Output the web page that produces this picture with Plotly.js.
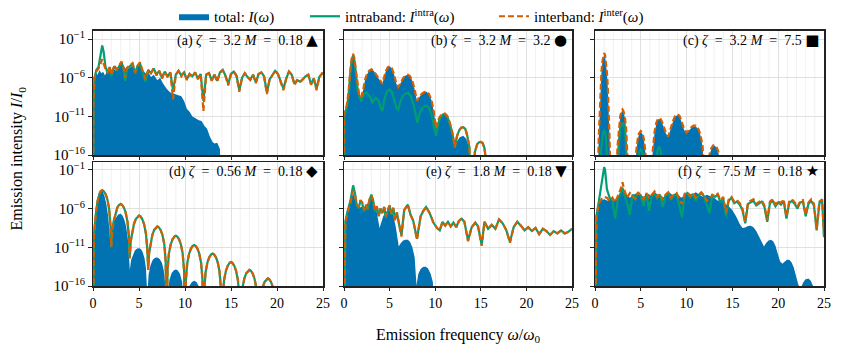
<!DOCTYPE html>
<html>
<head>
<meta charset="utf-8">
<script src="https://cdn.plot.ly/plotly-3.0.1.min.js"></script>
<style>
  body { margin: 0; background: #fff; }
  #chart { width: 843px; height: 353px; }
</style>
</head>
<body>
<div id="chart"></div>
<script>
// Emission spectra as [omega/omega0, log10(I/I0)] pairs

// (a) zeta = 3.2, M = 0.18
const totalA = [[0,-25],[0.05,-9],[0.15,-6.0],[0.3,-5.3],[0.5,-5.6],[0.7,-5.0],[0.9,-5.4],[1.1,-5.2],[1.3,-5.7],[1.6,-4.9],[1.9,-5.3],[2.2,-4.8],[2.5,-5.1],[2.8,-4.5],[3.1,-4.0],[3.4,-4.6],[3.7,-5.0],[4.0,-4.7],[4.3,-4.4],[4.6,-4.9],[4.9,-4.3],[5.1,-4.2],[5.4,-5.0],[5.7,-5.4],[6.0,-5.2],[6.3,-5.9],[6.6,-5.6],[7.0,-6.3],[7.3,-6.0],[7.6,-6.7],[8.0,-7.4],[8.4,-7.9],[8.8,-8.1],[9.2,-8.3],[9.6,-8.4],[9.9,-9.0],[10.2,-10.0],[10.5,-10.4],[10.8,-11.0],[11.1,-11.2],[11.5,-11.5],[11.8,-11.6],[12.1,-12.2],[12.4,-12.6],[12.7,-13.6],[13.0,-14.3],[13.2,-14.5],[13.5,-14.4],[13.8,-15.2],[14.0,-25]];
const intraA = [[0,-25],[0.05,-10],[0.15,-6.2],[0.35,-5.0],[0.6,-4.6],[0.85,-2.5],[1.0,-1.8],[1.15,-2.6],[1.35,-4.5],[1.6,-5.5],[1.8,-4.6],[2.0,-5.8],[2.3,-4.5],[2.6,-5.0],[2.9,-4.3],[3.1,-4.0],[3.3,-4.7],[3.5,-6.4],[3.7,-4.8],[4.0,-4.5],[4.3,-4.2],[4.6,-5.5],[4.8,-4.6],[5.1,-4.1],[5.4,-5.2],[5.7,-6.5],[6.0,-5.0],[6.3,-5.4],[6.6,-4.8],[6.9,-5.6],[7.2,-5.1],[7.5,-6.0],[7.8,-5.2],[8.1,-5.8],[8.4,-5.3],[8.7,-7.6],[9.0,-5.6],[9.3,-5.1],[9.6,-5.7],[9.9,-5.3],[10.2,-6.2],[10.5,-5.5],[10.8,-5.8],[11.1,-5.3],[11.4,-6.1],[11.7,-5.5],[12.0,-9.0],[12.3,-5.6],[12.6,-5.4],[12.9,-6.3],[13.2,-5.6],[13.5,-6.4],[13.8,-5.3],[14.1,-5.0],[14.4,-5.7],[14.7,-6.8],[15.0,-5.5],[15.3,-5.2],[15.6,-5.7],[15.9,-7.6],[16.2,-6.0],[16.5,-5.4],[16.8,-5.9],[17.1,-6.2],[17.4,-5.6],[17.7,-6.6],[18.0,-5.5],[18.3,-5.3],[18.6,-5.8],[18.9,-7.9],[19.2,-6.2],[19.5,-5.6],[19.8,-5.1],[20.1,-5.5],[20.4,-6.6],[20.7,-7.4],[21.0,-6.1],[21.3,-5.2],[21.6,-5.6],[21.9,-6.8],[22.2,-6.3],[22.5,-6.5],[22.8,-6.2],[23.1,-5.8],[23.4,-5.6],[23.7,-6.8],[24.0,-6.1],[24.3,-7.4],[24.6,-5.9],[24.9,-5.4],[25,-5.3]];
const interA = [[0,-25],[0.05,-9],[0.15,-6.0],[0.35,-5.2],[0.6,-4.8],[0.85,-4.0],[1.0,-3.6],[1.15,-4.1],[1.35,-4.9],[1.6,-5.3],[1.8,-4.5],[2.0,-5.6],[2.3,-4.4],[2.6,-4.9],[2.9,-4.2],[3.1,-3.9],[3.3,-4.6],[3.5,-6.0],[3.7,-4.7],[4.0,-4.4],[4.3,-4.1],[4.6,-5.3],[4.8,-4.5],[5.1,-4.0],[5.4,-5.0],[5.7,-6.2],[6.0,-5.0],[6.3,-5.4],[6.6,-4.8],[6.9,-5.7],[7.2,-5.1],[7.5,-6.1],[7.8,-5.2],[8.1,-5.9],[8.4,-5.3],[8.7,-8.8],[9.0,-5.6],[9.3,-5.1],[9.6,-5.8],[9.9,-5.3],[10.2,-6.3],[10.5,-5.5],[10.8,-5.9],[11.1,-5.3],[11.4,-6.2],[11.7,-5.5],[12.0,-10.3],[12.3,-5.6],[12.6,-5.4],[12.9,-6.4],[13.2,-5.6],[13.5,-6.5],[13.8,-5.3],[14.1,-5.0],[14.4,-5.8],[14.7,-7.0],[15.0,-5.5],[15.3,-5.2],[15.6,-5.8],[15.9,-7.8],[16.2,-6.0],[16.5,-5.4],[16.8,-5.9],[17.1,-6.3],[17.4,-5.6],[17.7,-6.7],[18.0,-5.5],[18.3,-5.3],[18.6,-5.9],[18.9,-8.1],[19.2,-6.2],[19.5,-5.6],[19.8,-5.1],[20.1,-5.5],[20.4,-6.7],[20.7,-7.6],[21.0,-6.1],[21.3,-5.2],[21.6,-5.6],[21.9,-6.9],[22.2,-6.3],[22.5,-6.6],[22.8,-6.2],[23.1,-5.8],[23.4,-5.6],[23.7,-6.9],[24.0,-6.1],[24.3,-7.6],[24.6,-5.9],[24.9,-5.4],[25,-5.3]];

// (b) zeta = 3.2, M = 3.2
const totalB = [[0,-25],[0.02,-10.4],[0.3,-9.6],[0.5,-7.8],[0.7,-5.0],[0.85,-3.5],[1.0,-2.9],[1.15,-3.5],[1.3,-5.0],[1.5,-7.2],[1.7,-8.5],[1.9,-8.4],[2.1,-7.6],[2.3,-6.3],[2.5,-5.6],[2.75,-5.1],[3.0,-4.9],[3.25,-5.1],[3.5,-5.6],[3.8,-6.1],[4.0,-6.4],[4.2,-6.8],[4.4,-5.9],[4.6,-5.1],[4.8,-4.65],[5.0,-4.5],[5.25,-4.75],[5.5,-5.6],[5.75,-6.8],[5.95,-7.2],[6.2,-6.7],[6.5,-6.0],[6.75,-5.7],[7.0,-5.6],[7.25,-5.8],[7.5,-6.4],[7.75,-7.5],[8.0,-9.0],[8.25,-8.5],[8.5,-8.1],[8.8,-7.85],[9.05,-7.8],[9.3,-8.05],[9.6,-8.9],[9.85,-10.4],[10.1,-12.5],[10.35,-11.4],[10.6,-10.9],[10.85,-10.65],[11.05,-10.6],[11.3,-10.9],[11.6,-11.8],[11.9,-13.3],[12.15,-15.0],[12.4,-14.2],[12.7,-13.7],[13.07,-13.5],[13.4,-13.9],[13.7,-15.0],[14.0,-25]];
const intraB = [[0,-25],[0.02,-10.9],[0.3,-10.0],[0.5,-8.3],[0.7,-5.3],[0.85,-3.7],[1.0,-3.1],[1.15,-3.8],[1.3,-5.4],[1.5,-7.6],[1.7,-8.5],[1.85,-8.9],[2.0,-8.7],[2.2,-8.1],[2.45,-7.9],[2.7,-8.3],[2.9,-8.5],[3.1,-9.3],[3.3,-8.8],[3.5,-8.6],[3.8,-9.0],[4.0,-9.8],[4.2,-10.3],[4.45,-8.7],[4.7,-7.8],[5.0,-7.5],[5.25,-7.9],[5.5,-8.8],[5.75,-9.9],[5.95,-10.1],[6.2,-9.0],[6.5,-8.3],[6.8,-8.0],[7.0,-7.95],[7.3,-8.3],[7.6,-9.4],[7.85,-11.0],[8.05,-11.8],[8.3,-10.6],[8.6,-9.9],[8.85,-9.65],[9.05,-9.6],[9.35,-9.95],[9.65,-11.0],[9.9,-12.6],[10.1,-13.5],[10.35,-11.9],[10.6,-11.1],[10.85,-10.75],[11.05,-10.7],[11.3,-10.95],[11.6,-11.9],[11.9,-13.3],[12.15,-15.0],[12.4,-13.5],[12.65,-12.75],[12.85,-12.45],[13.07,-12.4],[13.3,-12.6],[13.5,-13.4],[13.75,-15.0],[14.0,-25],[14.35,-15.6],[14.6,-14.6],[14.8,-14.35],[15.0,-14.3],[15.2,-14.45],[15.4,-15.1],[15.6,-17],[15.7,-25]];
const interB = [[0,-25],[0.02,-10.4],[0.3,-9.6],[0.5,-7.8],[0.7,-5.0],[0.85,-3.5],[1.0,-2.9],[1.15,-3.5],[1.3,-5.0],[1.5,-7.2],[1.7,-8.5],[1.9,-8.4],[2.1,-7.6],[2.3,-6.3],[2.5,-5.6],[2.75,-5.1],[3.0,-4.9],[3.25,-5.1],[3.5,-5.6],[3.8,-6.1],[4.0,-6.4],[4.2,-6.8],[4.4,-5.9],[4.6,-5.1],[4.8,-4.65],[5.0,-4.5],[5.25,-4.75],[5.5,-5.6],[5.75,-6.8],[5.95,-7.2],[6.2,-6.7],[6.5,-6.0],[6.75,-5.7],[7.0,-5.6],[7.25,-5.8],[7.5,-6.4],[7.75,-7.5],[8.0,-9.0],[8.25,-8.5],[8.5,-8.1],[8.8,-7.85],[9.05,-7.8],[9.3,-8.05],[9.6,-8.9],[9.85,-10.4],[10.1,-12.5],[10.35,-11.4],[10.6,-10.9],[10.85,-10.65],[11.05,-10.6],[11.3,-10.9],[11.6,-11.8],[11.9,-13.2],[12.15,-15.0],[12.4,-13.5],[12.65,-12.75],[12.85,-12.45],[13.07,-12.4],[13.3,-12.6],[13.5,-13.4],[13.75,-15.0],[14.0,-25],[14.35,-15.6],[14.6,-14.6],[14.8,-14.35],[15.0,-14.3],[15.2,-14.45],[15.4,-15.1],[15.6,-17],[15.7,-25]];

// (c) zeta = 3.2, M = 7.5
const totalC = [[0,-25],[0.3,-20],[0.4,-14.1],[0.5,-10.1],[0.6,-7.3],[0.7,-5.4],[0.8,-4.0],[0.9,-3.15],[1.0,-2.9],[1.1,-3.15],[1.2,-4.0],[1.3,-5.4],[1.4,-7.3],[1.5,-10.1],[1.6,-14.1],[1.7,-20],[2.3,-20],[2.45,-15.1],[2.6,-12.6],[2.75,-11.1],[2.9,-10.4],[3.0,-10.2],[3.1,-10.4],[3.25,-11.1],[3.4,-12.6],[3.55,-15.1],[3.7,-20],[4.35,-20],[4.5,-15.6],[4.65,-14.1],[4.8,-13.3],[5.0,-13.0],[5.2,-13.3],[5.35,-14.1],[5.5,-15.6],[5.65,-20],[6.15,-20],[6.3,-15.6],[6.5,-13.1],[6.7,-11.9],[6.85,-11.45],[7.0,-11.3],[7.2,-11.5],[7.45,-12.2],[7.7,-13.1],[8.0,-13.7],[8.25,-12.7],[8.5,-11.7],[8.75,-11.05],[9.0,-10.8],[9.25,-11.05],[9.5,-11.8],[9.75,-12.8],[10.0,-13.2],[10.25,-12.8],[10.5,-12.5],[10.75,-12.3],[11.0,-12.3],[11.25,-12.6],[11.5,-13.4],[11.75,-14.9],[11.95,-20],[12.35,-20],[12.5,-16.0],[12.7,-15.2],[12.9,-14.85],[13.05,-14.8],[13.25,-15.0],[13.45,-15.6],[13.65,-16.7],[13.8,-20],[14.0,-25]];
const intraC = [[0,-25],[0.55,-20],[0.65,-15.5],[0.8,-13.6],[0.9,-13.0],[1.0,-12.85],[1.1,-13.0],[1.2,-13.6],[1.35,-15.5],[1.45,-20],[2.5,-20],[2.65,-14.0],[2.8,-12.4],[2.9,-11.95],[3.0,-11.8],[3.1,-11.95],[3.2,-12.4],[3.35,-14.0],[3.5,-20],[4.65,-20],[4.8,-15.7],[5.0,-15.2],[5.2,-15.7],[5.35,-20],[6.65,-20],[6.8,-15.5],[7.0,-14.9],[7.2,-15.5],[7.35,-20],[25,-20]];
const interC = [[0,-25],[0.3,-20],[0.4,-14],[0.5,-10.0],[0.6,-7.2],[0.7,-5.3],[0.8,-3.9],[0.9,-3.05],[1.0,-2.8],[1.1,-3.05],[1.2,-3.9],[1.3,-5.3],[1.4,-7.2],[1.5,-10.0],[1.6,-14],[1.7,-20],[2.3,-20],[2.45,-15],[2.6,-12.5],[2.75,-11.0],[2.9,-10.3],[3.0,-10.1],[3.1,-10.3],[3.25,-11.0],[3.4,-12.5],[3.55,-15],[3.7,-20],[4.35,-20],[4.5,-15.5],[4.65,-14.0],[4.8,-13.2],[5.0,-12.9],[5.2,-13.2],[5.35,-14.0],[5.5,-15.5],[5.65,-20],[6.15,-20],[6.3,-15.5],[6.5,-13.0],[6.7,-11.8],[6.85,-11.35],[7.0,-11.2],[7.2,-11.4],[7.45,-12.1],[7.7,-13.0],[8.0,-13.6],[8.25,-12.6],[8.5,-11.6],[8.75,-10.95],[9.0,-10.7],[9.25,-10.95],[9.5,-11.7],[9.75,-12.7],[10.0,-13.1],[10.25,-12.7],[10.5,-12.4],[10.75,-12.2],[11.0,-12.2],[11.25,-12.5],[11.5,-13.3],[11.75,-14.8],[11.95,-20],[12.35,-20],[12.5,-15.9],[12.7,-15.1],[12.9,-14.75],[13.05,-14.7],[13.25,-14.9],[13.45,-15.5],[13.65,-16.6],[13.8,-20],[14,-25],[25,-25]];

// (d) zeta = 0.56, M = 0.18
const totalD = [[0,-25],[0.1,-9.0],[0.3,-6.5],[0.5,-4.9],[0.7,-4.0],[0.9,-3.65],[1.05,-3.8],[1.25,-4.4],[1.45,-5.4],[1.65,-7.0],[1.8,-9.0],[1.9,-11.1],[2.0,-9.6],[2.15,-8.3],[2.35,-7.4],[2.55,-7.0],[2.75,-6.75],[3.0,-6.65],[3.2,-6.9],[3.4,-7.4],[3.6,-8.3],[3.8,-10.0],[4.0,-13.9],[4.15,-12.6],[4.35,-11.9],[4.55,-11.4],[4.8,-11.15],[5.0,-11.1],[5.2,-11.2],[5.4,-11.6],[5.6,-12.4],[5.75,-13.6],[5.9,-17],[6.05,-14.5],[6.25,-13.3],[6.5,-12.6],[6.75,-12.35],[7.0,-12.3],[7.25,-12.5],[7.5,-13.0],[7.7,-14.0],[7.9,-16.5],[8.0,-25],[8.1,-17.5],[8.3,-15.2],[8.55,-14.3],[8.8,-13.95],[9.0,-13.85],[9.2,-13.95],[9.45,-14.4],[9.7,-15.5],[9.9,-18],[10.0,-25],[10.2,-17.2],[10.5,-15.9],[10.75,-15.45],[11.0,-15.3],[11.25,-15.45],[11.5,-16.0],[11.7,-17.5],[11.8,-25]];
const intraD = [[0,-25],[0.1,-9.5],[0.3,-6.8],[0.5,-5.0],[0.7,-4.1],[0.85,-3.75],[1.0,-3.65],[1.15,-3.75],[1.35,-4.1],[1.55,-4.75],[1.75,-6.0],[1.9,-8.2],[2.0,-10.9],[2.1,-8.8],[2.25,-7.6],[2.45,-6.5],[2.65,-5.85],[2.85,-5.5],[3.0,-5.4],[3.15,-5.5],[3.35,-5.85],[3.55,-6.5],[3.75,-7.7],[3.9,-9.6],[4.0,-12.4],[4.1,-10.2],[4.25,-9.0],[4.45,-8.0],[4.65,-7.35],[4.85,-7.0],[5.0,-6.9],[5.15,-7.0],[5.35,-7.35],[5.55,-8.0],[5.75,-9.2],[5.9,-11.2],[6.0,-13.9],[6.1,-11.7],[6.25,-10.5],[6.45,-9.4],[6.65,-8.75],[6.85,-8.4],[7.0,-8.3],[7.15,-8.4],[7.35,-8.75],[7.55,-9.4],[7.75,-10.6],[7.9,-12.8],[8.0,-25],
  [8.1,-14],[8.25,-11.8],[8.45,-10.6],[8.65,-9.95],[8.85,-9.6],[9,-9.5],[9.15,-9.6],[9.35,-9.95],[9.55,-10.6],[9.75,-11.8],[9.9,-14],[10,-25],
  [10.1,-15.2],[10.25,-13.0],[10.45,-11.8],[10.65,-11.15],[10.85,-10.8],[11,-10.7],[11.15,-10.8],[11.35,-11.15],[11.55,-11.8],[11.75,-13.0],[11.9,-15.2],[12,-25],
  [12.1,-16.3],[12.25,-14.1],[12.45,-12.9],[12.65,-12.25],[12.85,-11.9],[13,-11.8],[13.15,-11.9],[13.35,-12.25],[13.55,-12.9],[13.75,-14.1],[13.9,-16.3],[14,-25],
  [14.1,-17.4],[14.25,-15.2],[14.45,-14.0],[14.65,-13.35],[14.85,-13.0],[15,-12.9],[15.15,-13.0],[15.35,-13.35],[15.55,-14.0],[15.75,-15.2],[15.9,-17.4],[16,-25],
  [16.1,-18.4],[16.25,-16.2],[16.45,-15.0],[16.65,-14.35],[16.85,-14.0],[17,-13.9],[17.15,-14.0],[17.35,-14.35],[17.55,-15.0],[17.75,-16.2],[17.9,-18.4],[18,-25],
  [18.1,-19.5],[18.25,-17.3],[18.45,-16.1],[18.65,-15.45],[18.85,-15.1],[19,-15.0],[19.15,-15.1],[19.35,-15.45],[19.55,-16.1],[19.75,-17.3],[19.9,-19.5],[20,-25],[25,-25]];
const interD = intraD; // the two curves coincide in this panel

// (e) zeta = 1.8, M = 0.18
const totalE = [[0,-25],[0.1,-9.5],[0.3,-6.3],[0.6,-5.6],[1.0,-4.0],[1.3,-5.2],[1.6,-6.0],[2.0,-5.7],[2.4,-5.9],[2.7,-5.0],[3.0,-4.5],[3.3,-5.2],[3.6,-6.5],[3.9,-8.5],[4.3,-7.0],[4.6,-6.4],[5.0,-6.2],[5.4,-6.8],[5.7,-8.5],[6.0,-10.9],[6.2,-10.5],[6.45,-10.15],[6.7,-10.0],[7.0,-10.0],[7.25,-10.3],[7.5,-11.0],[7.75,-12.3],[7.95,-15.9],[8.15,-14.4],[8.4,-13.8],[8.7,-13.5],[8.95,-13.5],[9.2,-13.7],[9.5,-14.4],[9.75,-15.5],[9.95,-25]];
const intraE = [[0,-25],[0.15,-7.6],[0.4,-6.3],[0.7,-5.0],[1.0,-3.0],[1.2,-4.0],[1.4,-5.6],[1.6,-6.0],[1.8,-5.0],[2.0,-5.3],[2.2,-6.4],[2.4,-5.6],[2.6,-6.2],[2.8,-4.9],[3.0,-4.2],[3.2,-5.0],[3.4,-6.4],[3.6,-5.8],[3.8,-7.0],[4.0,-6.0],[4.2,-6.6],[4.4,-5.8],[4.6,-7.2],[4.8,-6.2],[5.0,-5.6],[5.2,-6.8],[5.4,-5.9],[5.6,-7.4],[5.8,-6.5],[6.0,-7.8],[6.3,-9.4],[6.6,-6.2],[7.0,-5.5],[7.3,-6.8],[7.6,-7.6],[8.0,-9.9],[8.4,-7.0],[8.7,-6.3],[9.0,-5.8],[9.4,-6.6],[9.8,-7.8],[10.2,-8.5],[10.5,-8.8],[10.8,-7.7],[11.1,-8.2],[11.4,-7.7],[11.7,-8.3],[12.0,-7.8],[12.3,-8.4],[12.6,-7.6],[12.9,-7.3],[13.2,-7.7],[13.6,-10.1],[14.0,-8.4],[14.4,-7.8],[14.7,-8.3],[15.1,-10.7],[15.4,-7.7],[15.8,-8.6],[16.2,-8.1],[16.6,-8.6],[17.0,-7.4],[17.4,-7.9],[17.8,-8.8],[18.2,-10.3],[18.6,-8.4],[19.0,-7.7],[19.4,-8.2],[19.8,-8.8],[20.2,-8.4],[20.6,-8.9],[21.0,-8.5],[21.4,-9.3],[21.8,-8.6],[22.2,-8.9],[22.6,-9.4],[23.0,-8.9],[23.4,-9.2],[23.8,-8.8],[24.2,-9.2],[24.6,-9.0],[25,-8.6]];
const interE = [[0,-25],[0.15,-7.9],[0.4,-6.5],[0.7,-5.3],[1.0,-3.7],[1.2,-4.2],[1.4,-5.4],[1.6,-5.8],[1.8,-4.9],[2.0,-5.2],[2.2,-6.2],[2.4,-5.5],[2.6,-6.0],[2.8,-4.8],[3.0,-4.3],[3.2,-5.0],[3.4,-6.2],[3.6,-5.7],[3.8,-6.9],[4.0,-6.0],[4.2,-6.5],[4.4,-5.8],[4.6,-7.0],[4.8,-6.1],[5.0,-5.6],[5.2,-6.7],[5.4,-5.9],[5.6,-7.5],[5.8,-6.5],[6.0,-7.9],[6.3,-9.6],[6.6,-6.2],[7.0,-5.5],[7.3,-6.8],[7.6,-7.6],[8.0,-10.0],[8.4,-7.0],[8.7,-6.3],[9.0,-5.8],[9.4,-6.6],[9.8,-7.8],[10.2,-8.5],[10.5,-8.8],[10.8,-7.7],[11.1,-8.2],[11.4,-7.7],[11.7,-8.3],[12.0,-7.8],[12.3,-8.4],[12.6,-7.6],[12.9,-7.3],[13.2,-7.7],[13.6,-10.2],[14.0,-8.4],[14.4,-7.8],[14.7,-8.3],[15.1,-10.8],[15.4,-7.7],[15.8,-8.6],[16.2,-8.1],[16.6,-8.6],[17.0,-7.4],[17.4,-7.9],[17.8,-8.8],[18.2,-10.4],[18.6,-8.4],[19.0,-7.7],[19.4,-8.2],[19.8,-8.8],[20.2,-8.4],[20.6,-8.9],[21.0,-8.5],[21.4,-9.3],[21.8,-8.6],[22.2,-8.9],[22.6,-9.4],[23.0,-8.9],[23.4,-9.2],[23.8,-8.8],[24.2,-9.2],[24.6,-9.0],[25,-8.6]];

// (f) zeta = 7.5, M = 0.18
const totalF = [[0,-25],[0.1,-8.5],[0.3,-5.6],[0.6,-5.0],[1.0,-4.8],[1.4,-5.0],[1.8,-4.7],[2.2,-4.9],[2.6,-4.3],[3.0,-3.6],[3.4,-4.1],[3.8,-4.6],[4.2,-4.2],[4.6,-4.0],[5.0,-4.3],[5.4,-4.5],[5.8,-4.1],[6.2,-4.4],[6.6,-4.0],[7.0,-4.3],[7.4,-4.6],[7.8,-4.2],[8.2,-4.0],[8.6,-4.4],[9.0,-4.1],[9.4,-4.6],[9.8,-4.3],[10.2,-4.0],[10.6,-4.2],[11.0,-3.9],[11.4,-4.2],[11.8,-4.5],[12.2,-4.2],[12.6,-4.4],[13.0,-4.6],[13.4,-5.0],[13.8,-4.9],[14.2,-5.4],[14.6,-5.7],[15.0,-6.2],[15.4,-7.0],[15.8,-8.0],[16.1,-8.5],[16.4,-8.45],[16.7,-8.25],[17.0,-8.2],[17.3,-8.4],[17.6,-8.9],[17.9,-9.6],[18.2,-10.3],[18.45,-10.9],[18.7,-10.4],[18.95,-10.1],[19.2,-10.0],[19.45,-10.2],[19.7,-10.8],[19.95,-11.8],[20.2,-12.8],[20.45,-13.1],[20.7,-12.8],[20.95,-12.6],[21.2,-12.6],[21.45,-12.9],[21.7,-13.6],[21.95,-14.6],[22.2,-15.8],[22.45,-16.3],[22.7,-15.6],[22.95,-15.15],[23.3,-15.0],[23.55,-15.3],[23.8,-16.0],[24.0,-16.5],[24.2,-25]];
const intraF = [[0,-25],[0.15,-7.0],[0.4,-5.2],[0.7,-3.0],[0.9,-1.0],[1.0,-0.65],[1.1,-1.0],[1.3,-3.5],[1.6,-4.6],[1.9,-5.0],[2.2,-7.3],[2.5,-4.8],[2.8,-4.0],[3.0,-3.3],[3.2,-4.3],[3.5,-5.2],[3.8,-6.8],[4.1,-4.2],[4.4,-4.6],[4.7,-4.0],[5.0,-4.3],[5.3,-5.6],[5.6,-4.1],[5.9,-6.3],[6.2,-4.4],[6.5,-4.0],[6.8,-4.7],[7.1,-4.2],[7.4,-5.8],[7.7,-4.3],[8.0,-4.0],[8.3,-4.9],[8.6,-4.3],[8.9,-4.1],[9.2,-5.6],[9.5,-7.1],[9.8,-4.2],[10.1,-4.0],[10.4,-4.6],[10.7,-4.1],[11.0,-5.0],[11.3,-4.3],[11.6,-4.0],[11.9,-4.4],[12.2,-5.5],[12.5,-6.6],[12.8,-4.3],[13.1,-4.5],[13.4,-4.2],[13.7,-5.2],[14.0,-4.7],[14.3,-7.0],[14.6,-5.0],[14.9,-4.6],[15.2,-5.3],[15.5,-5.1],[15.8,-5.5],[16.1,-6.2],[16.4,-7.9],[16.7,-5.4],[17.0,-5.2],[17.3,-5.0],[17.6,-5.6],[17.9,-5.3],[18.2,-5.1],[18.5,-5.8],[18.8,-7.7],[19.1,-5.3],[19.4,-5.0],[19.7,-5.7],[20.0,-5.2],[20.3,-5.5],[20.6,-5.0],[20.9,-7.3],[21.2,-5.3],[21.5,-5.0],[21.8,-5.4],[22.1,-6.0],[22.4,-5.2],[22.7,-5.1],[23.0,-7.0],[23.3,-5.4],[23.6,-5.0],[23.9,-5.6],[24.2,-8.8],[24.5,-5.3],[24.8,-5.0],[25,-9.7]];
const interF = [[0,-25],[0.15,-7.1],[0.4,-5.4],[0.7,-4.8],[1.0,-4.5],[1.3,-4.6],[1.6,-5.0],[1.9,-4.6],[2.2,-5.2],[2.5,-4.4],[2.8,-3.5],[3.0,-2.6],[3.2,-3.6],[3.5,-4.6],[3.8,-4.0],[4.1,-4.4],[4.4,-4.8],[4.7,-3.9],[5.0,-4.3],[5.3,-4.8],[5.6,-4.0],[5.9,-4.6],[6.2,-4.2],[6.5,-3.8],[6.8,-4.5],[7.1,-4.1],[7.4,-4.9],[7.7,-4.2],[8.0,-3.9],[8.3,-4.6],[8.6,-4.2],[8.9,-4.0],[9.2,-4.8],[9.5,-5.4],[9.8,-4.1],[10.1,-3.9],[10.4,-4.4],[10.7,-4.0],[11.0,-4.6],[11.3,-4.2],[11.6,-3.9],[11.9,-4.3],[12.2,-5.0],[12.5,-4.8],[12.8,-4.2],[13.1,-4.4],[13.4,-4.1],[13.7,-4.9],[14.0,-4.5],[14.3,-6.5],[14.6,-4.8],[14.9,-4.5],[15.2,-5.1],[15.5,-4.9],[15.8,-5.3],[16.1,-6.0],[16.4,-7.7],[16.7,-5.2],[17.0,-5.0],[17.3,-4.8],[17.6,-5.4],[17.9,-5.1],[18.2,-4.9],[18.5,-5.6],[18.8,-7.5],[19.1,-5.1],[19.4,-4.8],[19.7,-5.5],[20.0,-5.0],[20.3,-5.3],[20.6,-4.8],[20.9,-7.1],[21.2,-5.1],[21.5,-4.8],[21.8,-5.2],[22.1,-5.8],[22.4,-5.0],[22.7,-4.9],[23.0,-6.8],[23.3,-5.2],[23.6,-4.8],[23.9,-5.4],[24.2,-8.6],[24.5,-5.1],[24.8,-4.8],[25,-9.5]];

const panelLabels = [
  '(a) <i>ζ</i>\u2002=\u20023.2 <i>M</i>\u2002=\u20020.18',
  '(b) <i>ζ</i>\u2002=\u20023.2 <i>M</i>\u2002=\u20023.2',
  '(c) <i>ζ</i>\u2002=\u20023.2 <i>M</i>\u2002=\u20027.5',
  '(d) <i>ζ</i>\u2002=\u20020.56 <i>M</i>\u2002=\u20020.18',
  '(e) <i>ζ</i>\u2002=\u20021.8 <i>M</i>\u2002=\u20020.18',
  '(f) <i>ζ</i>\u2002=\u20027.5 <i>M</i>\u2002=\u20020.18'
];
const panelSymbols = ['▲', '●', '■', '◆', '▼', '★'];
const xTickVals = [0, 5, 10, 15, 20, 25];
const yTickVals = [1e-1, 1e-6, 1e-11, 1e-16];
const yTickText = ['10<sup>−1</sup>', '10<sup>−6</sup>', '10<sup>−11</sup>', '10<sup>−16</sup>'];

const panels = [
  [totalA, intraA, interA], [totalB, intraB, interB], [totalC, intraC, interC],
  [totalD, intraD, interD], [totalE, intraE, interE], [totalF, intraF, interF]
];

const BLUE = '#0173b2', GREEN = '#029e73', ORANGE = '#d55e00';
const FONT = 'Liberation Serif';
const W = 843, H = 353;

// pixel boxes of the six axes
const colPx = [[93, 323], [344, 572], [595, 824]];
const rowPx = [[30, 154.5], [161.5, 286]];

const xs = pts => pts.map(p => p[0]);
const ys = pts => pts.map(p => Math.pow(10, p[1]));

const legendBox = left => ({
  orientation: 'h', x: left / W, xanchor: 'left', y: 1 - 16 / H, yanchor: 'middle',
  font: {family: FONT, size: 15}, bgcolor: 'rgba(0,0,0,0)', borderwidth: 0
});

const traces = [];
const annotations = [];
const shapes = [];
const layout = {
  width: W, height: H,
  margin: {l: 0, r: 0, t: 0, b: 0},
  paper_bgcolor: '#fff', plot_bgcolor: '#fff',
  font: {family: FONT, size: 14, color: '#000'},
  showlegend: true,
  legend: legendBox(174),
  legend2: legendBox(305),
  legend3: legendBox(494),
  annotations: annotations,
  shapes: shapes
};

panels.forEach(([total, intra, inter], i) => {
  const n = i === 0 ? '' : String(i + 1);
  const row = Math.floor(i / 3), col = i % 3;
  const xd = [colPx[col][0] / W, colPx[col][1] / W];
  const yd = [1 - rowPx[row][1] / H, 1 - rowPx[row][0] / H];

  traces.push({
    type: 'scatter', mode: 'lines', x: xs(total), y: ys(total),
    xaxis: 'x' + n, yaxis: 'y' + n,
    fill: 'toself', fillcolor: BLUE, line: {width: 0, color: BLUE},
    name: 'total: <i>I</i>(<i>ω</i>)', legend: 'legend', showlegend: i === 0, hoverinfo: 'skip'
  });
  traces.push({
    type: 'scatter', mode: 'lines', x: xs(intra), y: ys(intra),
    xaxis: 'x' + n, yaxis: 'y' + n,
    line: {width: 2.2, color: GREEN},
    name: 'intraband: <i>I</i><sup>intra</sup>(<i>ω</i>)', legend: 'legend2', showlegend: i === 0, hoverinfo: 'skip'
  });
  traces.push({
    type: 'scatter', mode: 'lines', x: xs(inter), y: ys(inter),
    xaxis: 'x' + n, yaxis: 'y' + n,
    line: {width: 2.2, color: ORANGE, dash: '6px,3px'},
    name: 'interband: <i>I</i><sup>inter</sup>(<i>ω</i>)', legend: 'legend3', showlegend: i === 0, hoverinfo: 'skip'
  });

  layout['xaxis' + n] = {
    domain: xd, anchor: 'y' + n, range: [0, 25],
    tickmode: 'array', tickvals: xTickVals, ticktext: xTickVals.map(String),
    ticks: 'outside', ticklen: 3.5, tickwidth: 1, tickcolor: '#222',
    showticklabels: row === 1, tickfont: {family: FONT, size: 14, color: '#000'},
    showgrid: true, gridcolor: '#d8d8d8', gridwidth: 0.8,
    showline: true, mirror: true, linecolor: '#222', linewidth: 1.5,
    zeroline: false, fixedrange: true
  };
  layout['yaxis' + n] = {
    domain: yd, anchor: 'x' + n, type: 'log', range: [-16, row === 0 ? 0.07 : 0.0],
    tickmode: 'array', tickvals: yTickVals, ticktext: yTickText,
    ticks: 'outside', ticklen: 3.5, tickwidth: 1, tickcolor: '#222',
    showticklabels: col === 0, tickfont: {family: FONT, size: 15, color: '#000'},
    showgrid: true, gridcolor: '#d8d8d8', gridwidth: 0.8,
    showline: true, mirror: true, linecolor: '#222', linewidth: 1.5,
    zeroline: false, fixedrange: true
  };

  // light minor grid every unit of omega/omega0
  for (let k = 1; k < 25; k++) {
    if (k % 5 === 0) continue;
    shapes.push({
      type: 'line', layer: 'below', xref: 'x' + n, yref: 'y' + n + ' domain',
      x0: k, x1: k, y0: 0, y1: 1, line: {color: '#eeeeee', width: 0.8}
    });
  }

  annotations.push({
    xref: 'paper', yref: 'paper', x: (colPx[col][1] - 3) / W, y: 1 - (rowPx[row][0] + 9) / H,
    xanchor: 'right', yanchor: 'middle', showarrow: false,
    text: panelLabels[i] + ' <span style="font-family:DejaVu Sans;font-size:15px">' + panelSymbols[i] + '</span>',
    font: {family: FONT, size: 14, color: '#000'}
  });
});

annotations.push({
  xref: 'paper', yref: 'paper', x: 18 / W, y: 1 - 158 / H, textangle: -90,
  xanchor: 'center', yanchor: 'middle', showarrow: false,
  text: 'Emission intensity <i>I</i>/<i>I</i><sub>0</sub>', font: {family: FONT, size: 16}
});
annotations.push({
  xref: 'paper', yref: 'paper', x: 458 / W, y: 1 - 335 / H,
  xanchor: 'center', yanchor: 'middle', showarrow: false,
  text: 'Emission frequency <i>ω</i>/<i>ω</i><sub>0</sub>', font: {family: FONT, size: 16}
});

Plotly.newPlot('chart', traces, layout, {displayModeBar: false, staticPlot: true});
</script>
</body>
</html>
